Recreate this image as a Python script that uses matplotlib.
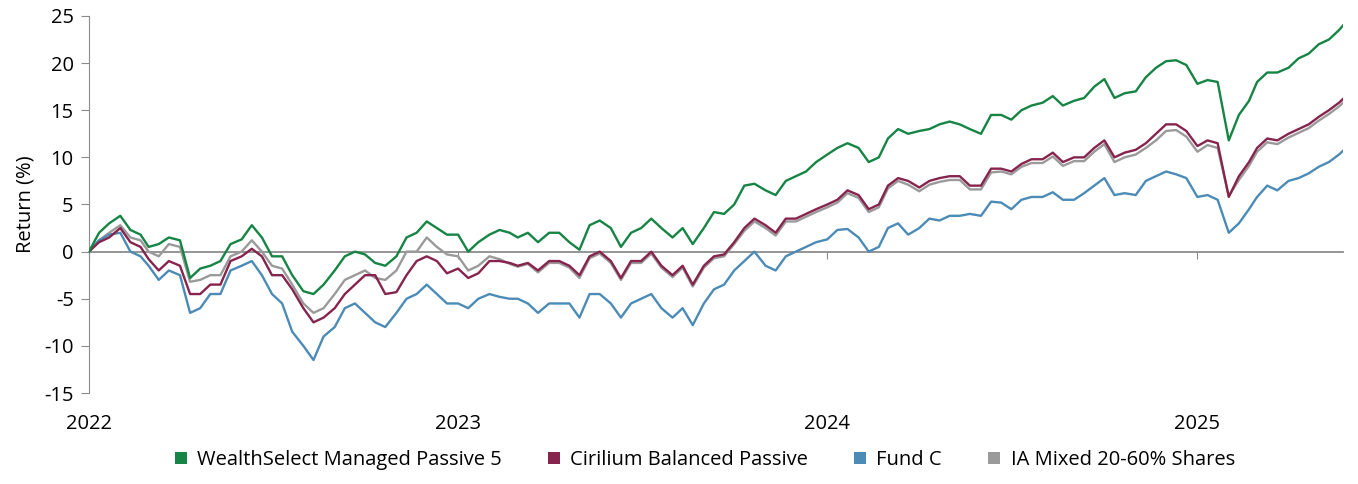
import numpy as np
import pandas as pd
import matplotlib
matplotlib.use("Agg")
import matplotlib.pyplot as plt
import matplotlib.transforms as mtransforms
from matplotlib.patches import Patch

plt.rcParams['font.family'] = ['Open Sans', 'DejaVu Sans']
plt.rcParams['axes.unicode_minus'] = False

# sample dates: 1st, 11th, 21st of each month, plus the last day shown
dates = [f"{y}-{m:02d}-{d:02d}" for y in (2022, 2023, 2024, 2025)
         for m in range(1, 13) for d in (1, 11, 21)]
dates = dates[:dates.index("2025-05-21") + 1] + ["2025-05-25"]
dates = pd.to_datetime(dates)

wealthselect = [
    # 2022
    0.0, 2.0, 3.0, 3.8, 2.3, 1.8, 0.5, 0.8, 1.5, 1.2, -2.8, -1.8,
    -1.5, -1.0, 0.8, 1.3, 2.8, 1.5, -0.5, -0.5, -2.5, -4.2, -4.5, -3.5,
    -2.0, -0.5, 0.0, -0.3, -1.2, -1.5, -0.5, 1.5, 2.0, 3.2, 2.5, 1.8,
    # 2023
    1.8, 0.0, 1.0, 1.8, 2.3, 2.0, 1.5, 2.0, 1.0, 2.0, 2.0, 1.0,
    0.2, 2.8, 3.3, 2.5, 0.5, 2.0, 2.5, 3.5, 2.5, 1.5, 2.5, 0.8,
    2.5, 4.2, 4.0, 5.0, 7.0, 7.2, 6.5, 6.0, 7.5, 8.0, 8.5, 9.5,
    # 2024
    10.3, 11.0, 11.5, 11.0, 9.5, 10.0, 12.0, 13.0, 12.5, 12.8, 13.0, 13.5,
    13.8, 13.5, 13.0, 12.5, 14.5, 14.5, 14.0, 15.0, 15.5, 15.8, 16.5, 15.5,
    16.0, 16.3, 17.5, 18.3, 16.3, 16.8, 17.0, 18.5, 19.5, 20.2, 20.3, 19.8,
    # 2025
    17.8, 18.2, 18.0, 11.8, 14.5, 16.0, 18.0, 19.0, 19.0, 19.5, 20.5, 21.0,
    22.0, 22.5, 23.5, 24.0,
]

cirilium = [
    0.0, 1.0, 1.5, 2.5, 1.0, 0.5, -0.8, -2.0, -1.0, -1.5, -4.5, -4.5,
    -3.5, -3.5, -1.0, -0.5, 0.3, -0.5, -2.5, -2.5, -4.0, -6.0, -7.5, -7.0,
    -6.0, -4.5, -3.5, -2.5, -2.5, -4.5, -4.3, -2.5, -1.0, -0.5, -1.0, -2.3,
    -1.8, -2.8, -2.3, -1.0, -1.0, -1.2, -1.5, -1.2, -2.0, -1.0, -1.0, -1.5,
    -2.5, -0.5, 0.0, -1.0, -2.8, -1.0, -1.0, 0.0, -1.5, -2.5, -1.5, -3.5,
    -1.5, -0.5, -0.3, 1.0, 2.5, 3.5, 2.8, 2.0, 3.5, 3.5, 4.0, 4.5,
    5.0, 5.5, 6.5, 6.0, 4.5, 5.0, 7.0, 7.8, 7.5, 6.8, 7.5, 7.8,
    8.0, 8.0, 7.0, 7.0, 8.8, 8.8, 8.5, 9.3, 9.8, 9.8, 10.5, 9.5,
    10.0, 10.0, 11.0, 11.8, 10.0, 10.5, 10.8, 11.5, 12.5, 13.5, 13.5, 12.8,
    11.2, 11.8, 11.5, 5.8, 8.0, 9.5, 11.0, 12.0, 11.8, 12.5, 13.0, 13.5,
    14.3, 15.0, 15.8, 16.2,
]

fund_c = [
    0.0, 1.2, 1.8, 2.0, 0.0, -0.5, -1.5, -3.0, -2.0, -2.5, -6.5, -6.0,
    -4.5, -4.5, -2.0, -1.5, -1.0, -2.5, -4.5, -5.5, -8.5, -10.0, -11.5, -9.0,
    -8.0, -6.0, -5.5, -6.5, -7.5, -8.0, -6.5, -5.0, -4.5, -3.5, -4.5, -5.5,
    -5.5, -6.0, -5.0, -4.5, -4.8, -5.0, -5.0, -5.5, -6.5, -5.5, -5.5, -5.5,
    -7.0, -4.5, -4.5, -5.5, -7.0, -5.5, -5.0, -4.5, -6.0, -7.0, -6.0, -7.8,
    -5.5, -4.0, -3.5, -2.0, -1.0, 0.0, -1.5, -2.0, -0.5, 0.0, 0.5, 1.0,
    1.3, 2.3, 2.4, 1.5, 0.0, 0.5, 2.5, 3.0, 1.8, 2.5, 3.5, 3.3,
    3.8, 3.8, 4.0, 3.8, 5.3, 5.2, 4.5, 5.5, 5.8, 5.8, 6.3, 5.5,
    5.5, 6.2, 7.0, 7.8, 6.0, 6.2, 6.0, 7.5, 8.0, 8.5, 8.2, 7.8,
    5.8, 6.0, 5.5, 2.0, 3.0, 4.5, 5.8, 7.0, 6.5, 7.5, 7.8, 8.3,
    9.0, 9.5, 10.3, 10.7,
]

ia_mixed = [
    0.0, 1.2, 2.0, 2.8, 1.5, 1.2, 0.0, -0.5, 0.8, 0.5, -3.2, -3.0,
    -2.5, -2.5, -0.5, 0.0, 1.2, 0.0, -1.5, -1.8, -3.5, -5.5, -6.5, -6.0,
    -4.5, -3.0, -2.5, -2.0, -2.8, -3.0, -2.0, 0.0, 0.0, 1.5, 0.5, -0.3,
    -0.5, -2.0, -1.5, -0.5, -0.8, -1.3, -1.6, -1.3, -2.2, -1.2, -1.2, -1.7,
    -2.8, -0.7, -0.2, -1.2, -3.0, -1.2, -1.2, -0.2, -1.7, -2.7, -1.7, -3.7,
    -1.7, -0.7, -0.5, 0.8, 2.2, 3.2, 2.5, 1.7, 3.2, 3.2, 3.7, 4.2,
    4.7, 5.2, 6.2, 5.7, 4.2, 4.7, 6.7, 7.5, 7.1, 6.4, 7.1, 7.4,
    7.6, 7.6, 6.6, 6.6, 8.4, 8.5, 8.2, 9.0, 9.4, 9.4, 10.1, 9.1,
    9.6, 9.6, 10.6, 11.4, 9.5, 10.0, 10.3, 11.0, 11.8, 12.8, 12.9, 12.2,
    10.6, 11.3, 11.0, 5.9, 7.6, 9.1, 10.6, 11.6, 11.4, 12.1, 12.6, 13.1,
    13.9, 14.6, 15.4, 15.8,
]

names = ["WealthSelect Managed Passive 5", "Cirilium Balanced Passive",
         "Fund C", "IA Mixed 20-60% Shares"]
colors = ["#168444", "#86244d", "#4b8bb6", "#9a9a9a"]
year_ticks = pd.to_datetime(["2022-01-01", "2023-01-01", "2024-01-01", "2025-01-01"])
year_labels = ["2022", "2023", "2024", "2025"]

fs = 14.5

fig = plt.figure(figsize=(13.58, 4.84), dpi=100)
ax = fig.add_axes([0.0655, 0.188, 0.9235, 0.779])

ax.plot(dates, ia_mixed, color=colors[3], lw=1.7, zorder=2)
ax.plot(dates, fund_c, color=colors[2], lw=1.7, zorder=3)
ax.plot(dates, cirilium, color=colors[1], lw=1.7, zorder=4)
ax.plot(dates, wealthselect, color=colors[0], lw=1.7, zorder=5)

ax.set_xlim(dates[0], dates[-1])
ax.set_ylim(-15, 25)
ax.set_yticks(range(-15, 30, 5))

for s in ("top", "right"):
    ax.spines[s].set_visible(False)
ax.spines["left"].set_color("#8c8c8c")
ax.spines["bottom"].set_position(("data", 0))
ax.spines["bottom"].set_color("#8c8c8c")
ax.spines["bottom"].set_linewidth(1.3)
ax.spines["bottom"].set_zorder(1)

ax.tick_params(axis="y", direction="out", length=6, color="#8c8c8c",
               labelsize=fs, pad=5)
ax.set_xticks(year_ticks)
ax.set_xticklabels([""] * len(year_ticks))
ax.tick_params(axis="x", direction="out", length=5, color="#8c8c8c")

trans = mtransforms.blended_transform_factory(ax.transData, ax.transAxes)
for t, lab in zip(year_ticks, year_labels):
    ax.text(t, -0.083, lab, transform=trans, ha="center", va="center",
            fontsize=fs)

ax.set_ylabel("Return (%)", fontsize=fs, labelpad=6)

handles = [Patch(facecolor=c, edgecolor="none") for c in colors]
ax.legend(handles, names, loc="center", bbox_to_anchor=(0.491, -0.178),
          ncol=4, frameon=False, fontsize=fs, handlelength=0.6,
          handleheight=0.6, handletextpad=0.5, columnspacing=2.3)

fig.savefig("out.png", dpi=100)
